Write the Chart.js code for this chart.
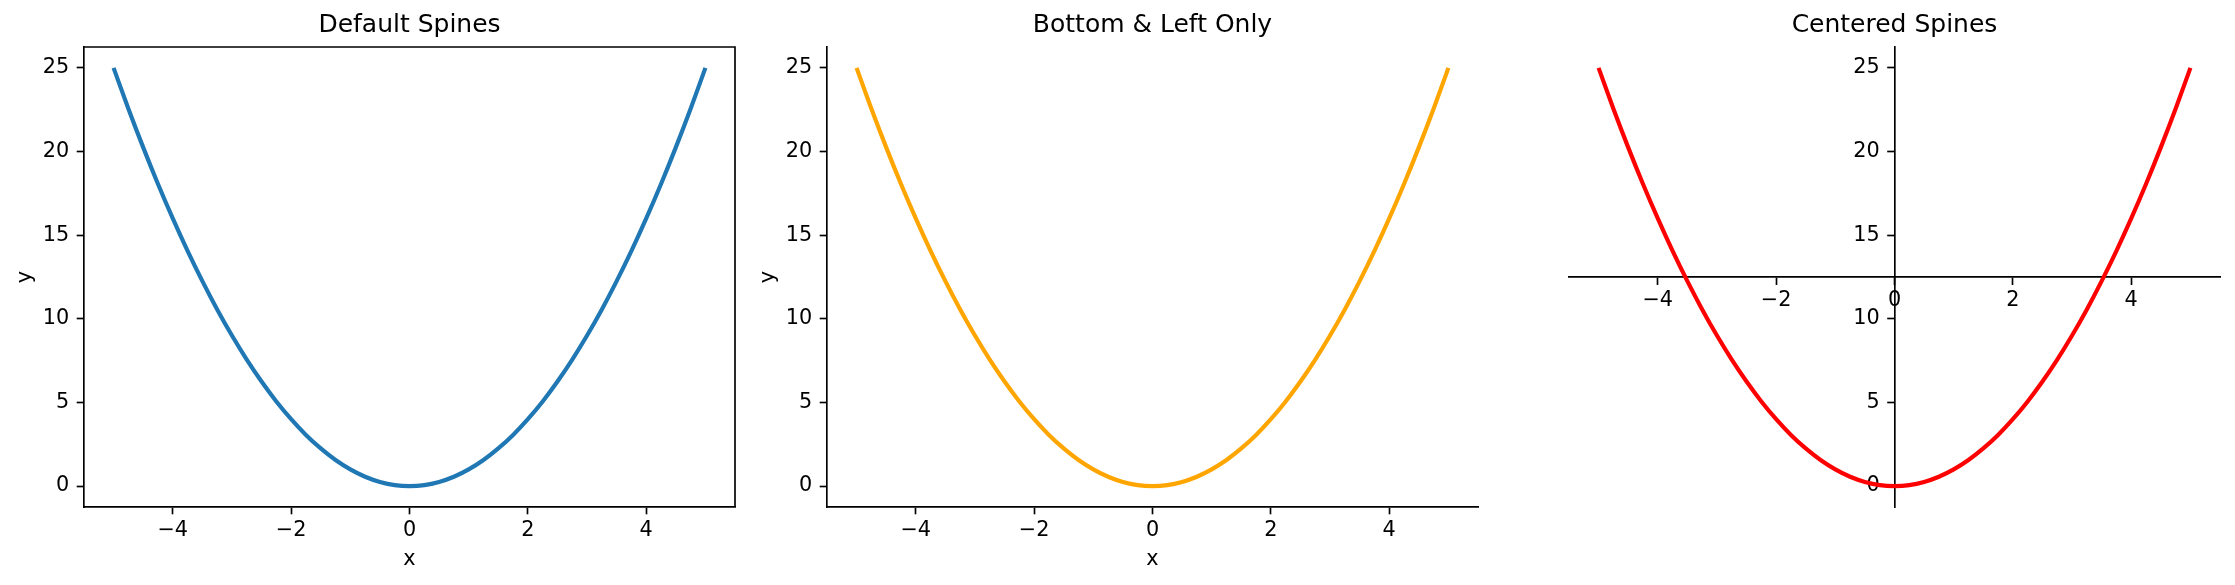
<!DOCTYPE html>
<html>
<head>
<meta charset="utf-8">
<script src="https://cdn.jsdelivr.net/npm/chart.js@4.4.0/dist/chart.umd.min.js"></script>
<style>
body{margin:0;background:#fff;}
#wrap{position:relative;width:2235px;height:585px;overflow:hidden;background:#fff;}
canvas{position:absolute;top:0;}
</style>
</head>
<body>
<div id="wrap">
<canvas id="c1" width="760" height="585" style="left:0px"></canvas>
<canvas id="c2" width="760" height="585" style="left:743px"></canvas>
<canvas id="c3y" width="695" height="585" style="left:1540px"></canvas>
<canvas id="c3" width="695" height="585" style="left:1540px"></canvas>
</div>
<script>
// curve (same curve in all three panels)
var xVals = [-5,-4.75,-4.5,-4.25,-4,-3.75,-3.5,-3.25,-3,-2.75,-2.5,-2.25,-2,-1.75,-1.5,-1.25,-1,-0.75,-0.5,-0.25,
             0,0.25,0.5,0.75,1,1.25,1.5,1.75,2,2.25,2.5,2.75,3,3.25,3.5,3.75,4,4.25,4.5,4.75,5];
var yVals = [25,22.56,20.25,18.06,16,14.06,12.25,10.56,9,7.56,6.25,5.06,4,3.06,2.25,1.56,1,0.56,0.25,0.06,
             0,0.06,0.25,0.56,1,1.56,2.25,3.06,4,5.06,6.25,7.56,9,10.56,12.25,14.06,16,18.06,20.25,22.56,25];
var xTicks = [-4,-2,0,2,4];
var yTicks = [0,5,10,15,20,25];
var titles = ["Default Spines", "Bottom & Left Only", "Centered Spines"];
var lineColors = ["#1f77b4", "#ffa500", "#ff0000"];

var FONT = "'DejaVu Sans', sans-serif";
var INK = "#000";
var SPINE = 1.67;
var TICK_LEN = 7.3;
var X_RANGE = [-5.5, 5.5];
var Y_RANGE = [-1.25, 26.25];

function fmt(v){
    return v < 0 ? "\u2212" + (-v) : "" + v;
}

function setTicks(list){
    return function(scale){
        scale.ticks = list.map(v => ({value: v}));
    };
}

function tickFont(){
    return {family: FONT, size: 20.8};
}

function gridOpts(){
    return {display: true, drawOnChartArea: false, drawTicks: true, tickLength: TICK_LEN, tickWidth: SPINE, tickColor: INK};
}

function borderOpts(){
    return {display: true, color: INK, width: SPINE};
}

// top + right spines for the boxed panel
var boxPlugin = {
    id: "box",
    afterDraw(chart, args, opts){
        if(!opts.show) return;
        var a = chart.chartArea;
        var ctx = chart.ctx;
        ctx.save();
        ctx.strokeStyle = INK;
        ctx.lineWidth = SPINE;
        ctx.beginPath();
        ctx.moveTo(a.left, a.top);
        ctx.lineTo(a.right, a.top);
        ctx.lineTo(a.right, a.bottom);
        ctx.stroke();
        ctx.restore();
    }
};

function makeChart(id, idx, mode){
    var centered = mode == "center";
    var points = xVals.map((x, i) => ({x: x, y: yVals[i]}));
    new Chart(id, {
        type: "line",
        data: {
            datasets: [{
                data: points,
                borderColor: lineColors[idx],
                borderWidth: 4.17,
                pointRadius: 0,
                cubicInterpolationMode: "monotone",
                fill: false
            }]
        },
        options: {
            responsive: false,
            animation: false,
            layout: {padding: centered ? {left: 29, right: 15, top: 0, bottom: 78} : {left: 0, right: 25, top: 0, bottom: 0}},
            plugins: {
                legend: {display: false},
                tooltip: {enabled: false},
                title: {
                    display: true,
                    fullSize: false,
                    text: titles[idx],
                    color: INK,
                    font: {family: FONT, size: 25, weight: "normal", lineHeight: 1.2},
                    padding: {top: 10.6, bottom: 6.4}
                },
                box: {show: mode == "box"}
            },
            scales: {
                x: {
                    type: "linear",
                    min: X_RANGE[0],
                    max: X_RANGE[1],
                    position: centered ? {y: (Y_RANGE[0] + Y_RANGE[1]) / 2} : "bottom",
                    afterBuildTicks: setTicks(xTicks),
                    afterFit: function(s){ s.height = centered ? 0 : 78; },
                    ticks: {font: tickFont(), color: INK, padding: 3.5, callback: fmt, autoSkip: false, maxRotation: 0},
                    grid: gridOpts(),
                    border: borderOpts(),
                    title: {display: !centered, text: "x", color: INK, font: tickFont(), padding: {top: 0, bottom: 12.8}}
                },
                y: {
                    type: "linear",
                    display: !centered,
                    min: Y_RANGE[0],
                    max: Y_RANGE[1],
                    position: "left",
                    afterBuildTicks: setTicks(yTicks),
                    afterFit: function(s){ s.width = centered ? 0 : 84; },
                    ticks: {font: tickFont(), color: INK, padding: 7.5, callback: fmt, autoSkip: false},
                    grid: gridOpts(),
                    border: borderOpts(),
                    title: {display: !centered, text: "y", color: INK, font: tickFont(), padding: {top: 13.4, bottom: 0}}
                }
            }
        },
        plugins: [boxPlugin]
    });
}

// vertical spine of the centred panel: a left axis whose right edge sits on x = 0
function makeCenterYAxis(id){
    new Chart(id, {
        type: "line",
        data: {datasets: []},
        options: {
            responsive: false,
            animation: false,
            layout: {padding: {left: 0, right: 15, top: 47, bottom: 78}},
            plugins: {legend: {display: false}, tooltip: {enabled: false}},
            scales: {
                x: {type: "linear", display: false, min: X_RANGE[0], max: X_RANGE[1]},
                y: {
                    type: "linear",
                    min: Y_RANGE[0],
                    max: Y_RANGE[1],
                    position: "left",
                    afterBuildTicks: setTicks(yTicks),
                    afterFit: function(s){ s.width = 354.5; },
                    ticks: {font: tickFont(), color: INK, padding: 7.5, callback: fmt, autoSkip: false},
                    grid: gridOpts(),
                    border: borderOpts()
                }
            }
        }
    });
}

makeChart("c1", 0, "box");
makeChart("c2", 1, "open");
makeCenterYAxis("c3y");
makeChart("c3", 2, "center");
</script>
</body>
</html>
